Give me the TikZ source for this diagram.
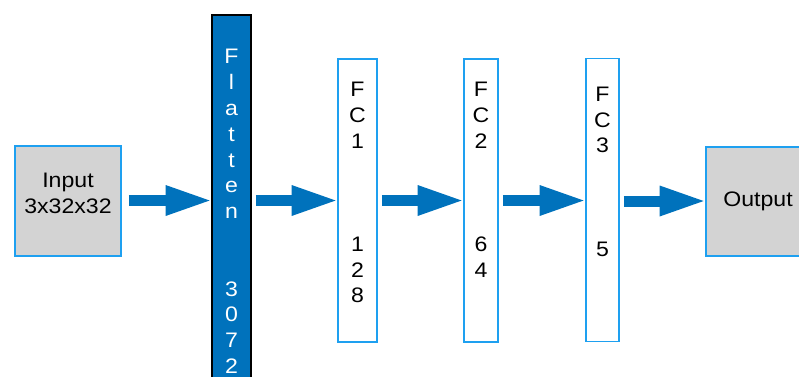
\documentclass[tikz,border=0pt]{standalone}
\usepackage{fontspec}
\setmainfont{Liberation Sans}[FakeStretch=1.1]
\usetikzlibrary{arrows.meta}
\definecolor{netblue}{RGB}{0,114,188}
\definecolor{edgeblue}{RGB}{30,160,240}
\definecolor{boxgray}{RGB}{211,211,211}
\tikzset{
  txt/.style={font=\fontsize{21}{25.8}\selectfont, align=center, inner sep=0pt},
  iobox/.style={draw=edgeblue, line width=1.8pt, fill=boxgray, inner sep=0pt,
    minimum width=106pt, minimum height=110pt},
  fcbox/.style={draw=edgeblue, line width=1.8pt, fill=white, inner sep=0pt,
    minimum height=283pt},
  flatbox/.style={draw=black, line width=1.8pt, fill=netblue, inner sep=0pt,
    minimum width=39pt, minimum height=385pt},
  flow/.style={draw=netblue, line width=11pt,
    -{Triangle[length=44pt, width=31pt, line width=0pt]},
    shorten <=4pt, shorten >=1.5pt}
}
\begin{document}
\begin{tikzpicture}[x=1pt, y=-1pt]
  \useasboundingbox (0,0) rectangle (799,376);
  \begin{scope}
    \clip (0,0) rectangle (799,376);
    % layers of the network
    \node[iobox, label={[txt, yshift=8pt]center:{Input\\3x32x32}}] (in) at (68,201) {};
    \node[flatbox, label={[txt, text=white, yshift=-4pt]center:{F\\l\\a\\t\\t\\e\\n\\[51.6pt]3\\0\\7\\2}}] (flat) at (231.5,207.5) {};
    \node[fcbox, minimum width=39pt, label={[txt, yshift=8pt]center:{F\\C\\1\\[77.4pt]1\\2\\8}}] (fc1) at (357.5,200.5) {};
    \node[fcbox, minimum width=34pt, label={[txt, yshift=21pt]center:{F\\C\\2\\[77.4pt]6\\4}}] (fc2) at (481,200.5) {};
    \node[fcbox, minimum width=33pt, label={[txt, yshift=28.5pt]center:{F\\C\\3\\[77.4pt]5}}] (fc3) at (602.5,200) {};
    \node[iobox, minimum height=109pt, label={[txt, xshift=-1pt]center:{Output}}] (out) at (759,201.5) {};
    % data flow between the layers
    \draw[flow, shorten <=7pt] (in.east |- 0,200.5) -- (flat.west |- 0,200.5);
    \draw[flow] (flat.east |- 0,200.5) -- (fc1.west |- 0,200.5);
    \draw[flow] (fc1.east |- 0,200.5) -- (fc2.west |- 0,200.5);
    \draw[flow] (fc2.east |- 0,200.5) -- (fc3.west |- 0,200.5);
    \draw[flow] (fc3.east |- 0,201) -- (out.west |- 0,201);
  \end{scope}
\end{tikzpicture}
\end{document}
